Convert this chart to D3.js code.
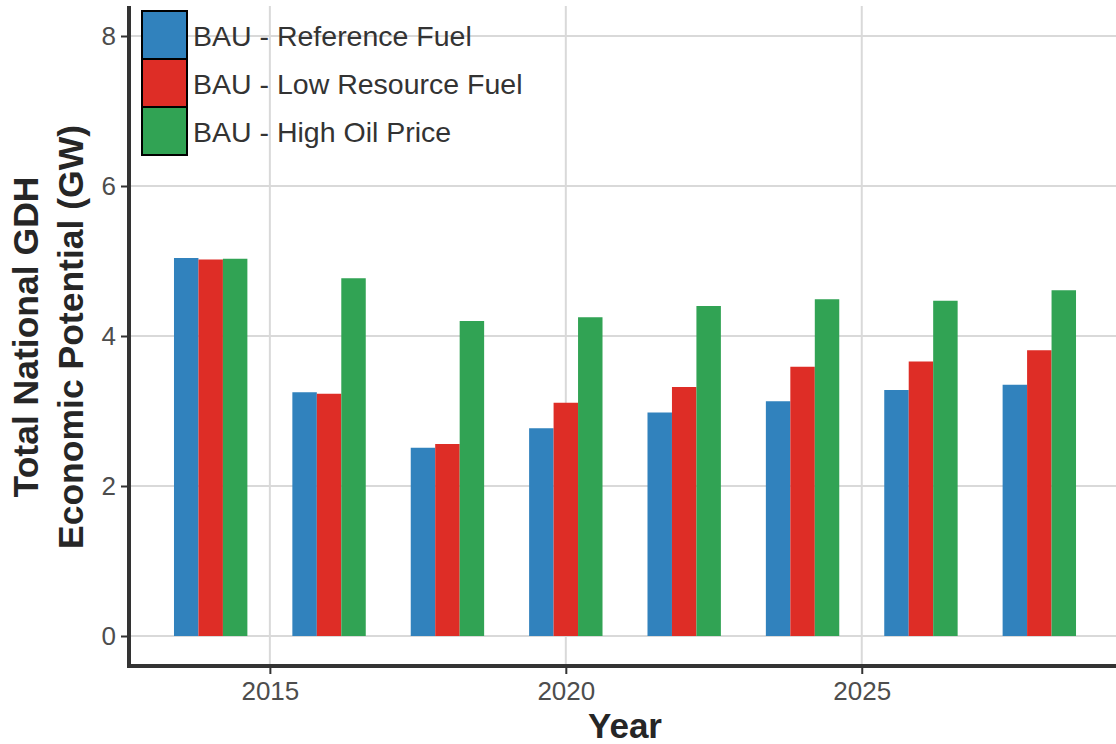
<!DOCTYPE html>
<html>
<head>
<meta charset="utf-8">
<script src="https://cdn.jsdelivr.net/npm/d3@7"></script>
<style>
  body { margin: 0; background: #fff; }
  svg { font-family: "Liberation Sans", Arial, sans-serif; }
</style>
</head>
<body>
<div class="chart"></div>
<script>
// data
const years = [2014, 2016, 2018, 2020, 2022, 2024, 2026, 2028];
const seriesNames = ["BAU - Reference Fuel", "BAU - Low Resource Fuel", "BAU - High Oil Price"];
const referenceFuel = [5.04, 3.25, 2.51, 2.77, 2.98, 3.13, 3.28, 3.35];
const lowResource   = [5.02, 3.23, 2.56, 3.11, 3.32, 3.59, 3.66, 3.81];
const highOilPrice  = [5.03, 4.77, 4.20, 4.25, 4.40, 4.49, 4.47, 4.61];
const xTicks = [2015, 2020, 2025];
const yTicks = [0, 2, 4, 6, 8];
const colors = ["#3182bd", "#de2d26", "#31a354"];

const seriesValues = [referenceFuel, lowResource, highOilPrice];

const width = 1116, height = 744;
const groupWidth = 1.24; // years

const svg = d3.select(".chart").append("svg")
    .attr("width", width)
    .attr("height", height);

const x = d3.scaleLinear().domain([2012.62, 2029.38]).range([129, 1121]);
const y = d3.scaleLinear().domain([-0.4, 8.4]).range([666, 6]);

// gridlines
const grid = svg.append("g").attr("class", "grid");
grid.selectAll(".hgrid").data(yTicks).enter().append("line")
    .attr("x1", x.range()[0]).attr("x2", x.range()[1])
    .attr("y1", d => y(d)).attr("y2", d => y(d))
    .style("stroke", "#d9d9d9").style("stroke-width", 2);
grid.selectAll(".vgrid").data(xTicks).enter().append("line")
    .attr("x1", d => x(d)).attr("x2", d => x(d))
    .attr("y1", y.range()[0]).attr("y2", y.range()[1])
    .style("stroke", "#d9d9d9").style("stroke-width", 2);

// bars
const barW = groupWidth / seriesNames.length;
const bars = svg.append("g").attr("class", "bars");
seriesValues.forEach((vals, i) => {
    bars.selectAll(".bar-" + i)
        .data(vals.map((v, j) => ({year: years[j], value: v})))
        .enter()
        .append("rect")
        .attr("x", d => x(d.year - groupWidth / 2 + i * barW))
        .attr("width", d => x(d.year + barW) - x(d.year))
        .attr("y", d => y(d.value))
        .attr("height", d => y(0) - y(d.value))
        .style("fill", colors[i]);
});

// axes
const yaxis = svg.append("g")
    .attr("transform", `translate(${x.range()[0]},0)`)
    .call(d3.axisLeft(y).tickValues(yTicks).tickSize(8).tickPadding(5));
const xaxis = svg.append("g")
    .attr("transform", `translate(0,${y.range()[0]})`)
    .call(d3.axisBottom(x).tickValues(xTicks).tickFormat(d3.format("d")).tickSize(8).tickPadding(8));
[yaxis, xaxis].forEach(a => {
    a.select(".domain").remove();
    a.selectAll(".tick line").style("stroke", "#333").style("stroke-width", 2);
    a.selectAll(".tick text")
        .style("font-family", "'Liberation Sans', Arial, sans-serif")
        .style("font-size", "26px")
        .style("fill", "#4d4d4d");
});

svg.append("line")
    .attr("x1", x.range()[0]).attr("x2", x.range()[0])
    .attr("y1", y.range()[1]).attr("y2", y.range()[0] + 2)
    .style("stroke", "#333").style("stroke-width", 4);
svg.append("line")
    .attr("x1", x.range()[0] - 2).attr("x2", x.range()[1])
    .attr("y1", y.range()[0]).attr("y2", y.range()[0])
    .style("stroke", "#333").style("stroke-width", 4);

// axis titles
svg.append("text")
    .attr("x", 625).attr("y", 738)
    .attr("text-anchor", "middle")
    .style("font-size", "35px").style("font-weight", "bold").style("fill", "#262626")
    .text("Year");
const ytitle = svg.append("text")
    .attr("transform", "translate(0,337) rotate(-90)")
    .attr("text-anchor", "middle")
    .style("font-size", "35.5px").style("font-weight", "bold").style("fill", "#262626");
ytitle.append("tspan").attr("x", 0).attr("y", 38).text("Total National GDH");
ytitle.append("tspan").attr("x", 0).attr("y", 83).text("Economic Potential (GW)");

// legend
const keyH = 48, keyW = 45;
const legend = svg.append("g").attr("transform", "translate(142,11)");
const items = legend.selectAll(".item").data(seriesNames).enter().append("g")
    .attr("transform", (d, i) => `translate(0,${i * keyH})`);
items.append("rect")
    .attr("width", keyW).attr("height", keyH)
    .style("fill", (d, i) => colors[i])
    .style("stroke", "#000").style("stroke-width", 2);
items.append("text")
    .attr("x", keyW + 6).attr("y", keyH / 2 + 3)
    .attr("dominant-baseline", "middle")
    .style("font-size", "28.5px").style("fill", "#333")
    .text(d => d);
</script>
</body>
</html>
